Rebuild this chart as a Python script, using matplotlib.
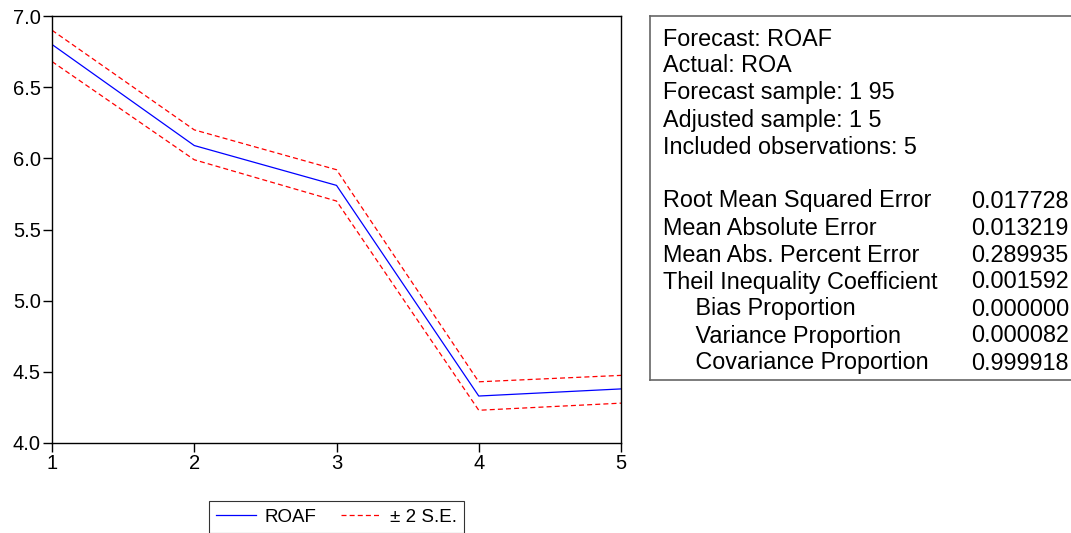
import matplotlib.pyplot as plt
from matplotlib.lines import Line2D

plt.rcParams['font.family'] = ['Liberation Sans', 'DejaVu Sans']

# forecast data
obs = [1, 2, 3, 4, 5]
roaf = [6.80, 6.09, 5.81, 4.33, 4.38]
upper = [6.90, 6.20, 5.92, 4.43, 4.475]
lower = [6.68, 5.99, 5.70, 4.23, 4.28]

header_lines = ['Forecast: ROAF', 'Actual: ROA', 'Forecast sample: 1 95',
                'Adjusted sample: 1 5', 'Included observations: 5']
stat_names = ['Root Mean Squared Error', 'Mean Absolute Error', 'Mean Abs. Percent Error',
              'Theil Inequality Coefficient', '     Bias Proportion',
              '     Variance Proportion', '     Covariance Proportion']
stat_values = ['0.017728', '0.013219', '0.289935', '0.001592',
               '0.000000', '0.000082', '0.999918']

W, H = 1071, 533
fig = plt.figure(figsize=(W / 100, H / 100), dpi=100)
ax = fig.add_axes([52 / W, 1 - 443 / H, (621 - 52) / W, (443 - 16) / H])

ax.plot(obs, roaf, color='blue', lw=0.9)
ax.plot(obs, upper, color='red', lw=0.9, ls=(0, (4, 2.5)))
ax.plot(obs, lower, color='red', lw=0.9, ls=(0, (4, 2.5)))

ax.set_xlim(1, 5)
ax.set_ylim(4.0, 7.0)
ax.set_xticks(obs)
ax.set_yticks([4.0, 4.5, 5.0, 5.5, 6.0, 6.5, 7.0])
ax.set_yticklabels(['4.0', '4.5', '5.0', '5.5', '6.0', '6.5', '7.0'])
ax.tick_params(axis='both', labelsize=14.5, width=1, length=6.5, color='black', pad=1.5)
for s in ax.spines.values():
    s.set_linewidth(1)

handles = [Line2D([], [], color='blue', lw=0.9),
           Line2D([], [], color='red', lw=0.9, ls=(0, (4, 2.5)))]
leg = fig.legend(handles, ['ROAF', '± 2 S.E.'], loc='lower center',
                 bbox_to_anchor=(336.5 / W, -0.011), ncol=2, frameon=True,
                 fancybox=False, fontsize=13.5, handlelength=2.1,
                 columnspacing=1.3, borderpad=0.4, handletextpad=0.5,
                 borderaxespad=0.3)
leg.get_frame().set_edgecolor('black')
leg.get_frame().set_linewidth(0.8)

# statistics box
box = fig.add_axes([650 / W, 1 - 380 / H, (W - 650 + 10) / W, (380 - 16) / H])
box.set_xticks([])
box.set_yticks([])
for s in box.spines.values():
    s.set_color('#666666')
    s.set_linewidth(1.2)

x0 = 663 / W
xv = 971 / W
y = 39
for line in header_lines:
    fig.text(x0, 1 - y / H, line, fontsize=16.8, va='center', ha='left')
    y += 27
y += 27
for name, val in zip(stat_names, stat_values):
    fig.text(x0, 1 - y / H, name, fontsize=16.8, va='center', ha='left')
    fig.text(xv, 1 - y / H, val, fontsize=16.8, va='center', ha='left')
    y += 27

fig.savefig('out.png', dpi=100)
